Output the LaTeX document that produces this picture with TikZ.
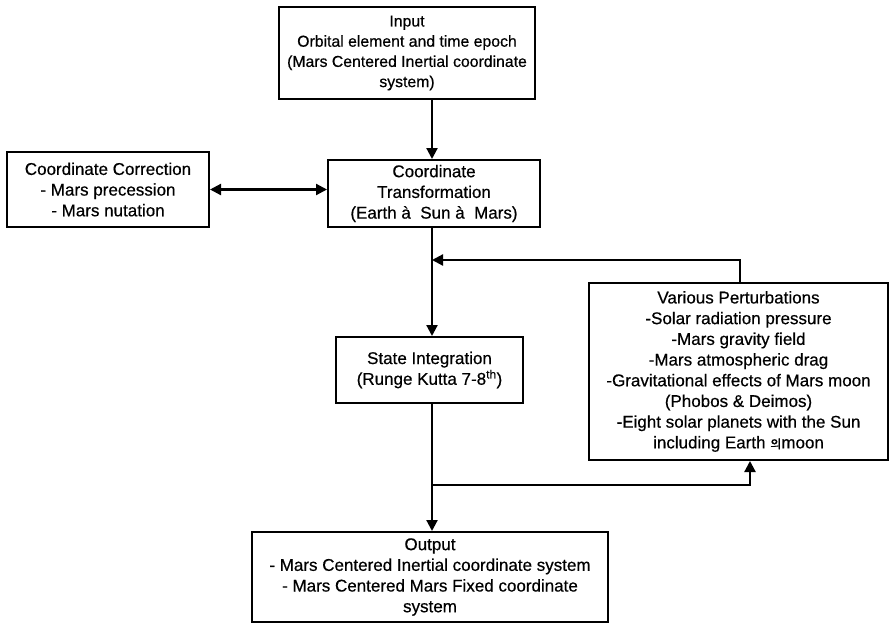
\documentclass[tikz,border=0pt]{standalone}
\usepackage{fontspec}
\setmainfont{Liberation Sans}[FakeBold=0.5]
\newfontfamily\krfont{Noto Sans CJK KR}[FakeBold=0.5]
\usetikzlibrary{arrows.meta}
\begin{document}
\begin{tikzpicture}[x=1pt,y=-1pt,
  box/.style={draw,line width=2pt,align=center,inner sep=0pt,
    font=\fontsize{17}{20.7}\selectfont},
  smallbox/.style={box,font=\fontsize{15.8}{20.2}\selectfont},
  conn/.style={line width=2.2pt,-{Triangle[length=11pt,width=11pt]}},
  dconn/.style={line width=2.2pt,{Triangle[length=11pt,width=11pt]}-{Triangle[length=11pt,width=11pt]}}
]
\useasboundingbox (0,0) rectangle (890,626);

\node[smallbox,minimum width=256pt,minimum height=92pt] (in) at (407,53)
  {Input\\Orbital element and time epoch\\(Mars Centered Inertial coordinate\\system)};
\node[box,minimum width=202pt,minimum height=75pt] (co) at (108,189.5)
  {Coordinate Correction\\- Mars precession\\- Mars nutation};
\node[box,minimum width=212pt,minimum height=67pt] (tr) at (434,193.5)
  {Coordinate\\Transformation\\(Earth à\ \ Sun à\ \ Mars)};
\node[box,minimum width=187pt,minimum height=66pt] (st) at (429.5,370)
  {State Integration\\(Runge Kutta 7-8\textsuperscript{th})};
\node[box,minimum width=299pt,minimum height=177pt] (pe) at (738.5,371.5)
  {Various Perturbations\\-Solar radiation pressure\\-Mars gravity field\\-Mars atmospheric drag\\-Gravitational effects of Mars moon\\(Phobos \& Deimos)\\-Eight solar planets with the Sun\\including Earth {\krfont\fontsize{12}{12}\selectfont 의}moon};
\node[box,minimum width=356pt,minimum height=90pt] (out) at (430,577)
  {Output\\- Mars Centered Inertial coordinate system\\- Mars Centered Mars Fixed coordinate\\system};

\coordinate (ax) at (432,0);
\coordinate (j1) at (432,260);
\coordinate (j2) at (432,485);
\coordinate (p1) at (740,0);
\coordinate (p2) at (750,0);

\draw[conn] (in.south -| ax) -- (tr.north -| ax);
\draw[dconn] (co.east) -- (co.east -| tr.west);
\draw[conn] (tr.south -| ax) -- (st.north -| ax);
\draw[conn] (st.south -| ax) -- (out.north -| ax);
\draw[conn] (pe.north -| p1) |- (j1);
\draw[conn] (j2) -| (pe.south -| p2);
\end{tikzpicture}
\end{document}
